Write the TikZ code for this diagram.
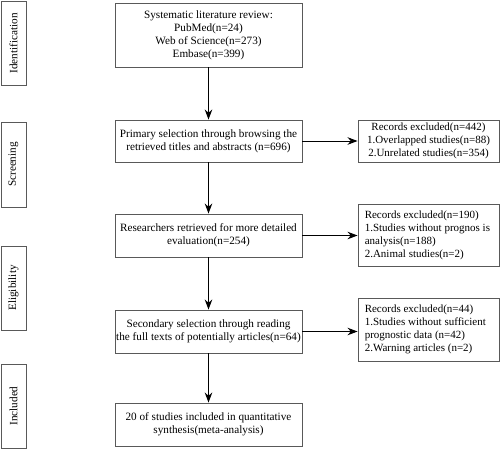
\documentclass[tikz,border=0pt]{standalone}
\usepackage{fontspec}
\setmainfont{Liberation Serif}
\usetikzlibrary{arrows.meta}
\begin{document}
\begin{tikzpicture}[x=1pt,y=-1pt,
  box/.style={draw=black!65,line width=0.9pt,fill=white,inner sep=0pt,font=\fontsize{11.2}{13}\selectfont},
  rtext/.style={inner sep=0pt,anchor=west,align=left,font=\fontsize{11}{13}\selectfont},
  phase/.style={draw=black!65,line width=0.9pt,inner sep=0pt,rotate=90,font=\fontsize{11.2}{13}\selectfont},
  arr/.style={-{Stealth[length=10pt,width=7.5pt]},line width=1pt,black}]
\useasboundingbox (0,0) rectangle (500,450);
% phase labels
\node[phase,minimum width=84pt,minimum height=25pt] (id) at (13.5,43.5) {Identification};
\node[phase,minimum width=85pt,minimum height=25pt] (sc) at (13.5,164.5) {Screening};
\node[phase,minimum width=84pt,minimum height=25pt] (el) at (13.5,288) {Eligibility};
\node[phase,minimum width=84pt,minimum height=25pt] (in) at (13.5,406) {Included};
% main boxes
\node[box,minimum width=187pt,minimum height=64pt,align=center] (b1) at (208.5,35) {Systematic literature review:\\PubMed(n=24)\\Web of Science(n=273)\\Embase(n=399)};
\node[box,minimum width=187pt,minimum height=42pt,align=center] (b2) at (208.5,141) {Primary selection through browsing the\\retrieved titles and abstracts (n=696)};
\node[box,minimum width=187pt,minimum height=43pt,align=center] (b3) at (208.5,235.5) {Researchers retrieved for more detailed\\evaluation(n=254)};
\node[box,minimum width=187pt,minimum height=43pt,align=center] (b4) at (208.5,331.5) {Secondary selection through reading\\the full texts of potentially articles(n=64)};
\node[box,minimum width=187pt,minimum height=43pt,align=center] (b5) at (208.5,424.5) {20 of studies included in quantitative\\synthesis(meta-analysis)};
% right boxes
\node[box,minimum width=141pt,minimum height=42pt,align=center,font=\fontsize{11}{13}\selectfont] (r1) at (428.5,141) {Records excluded(n=442)\\1.Overlapped studies(n=88)\\2.Unrelated studies(n=354)};
\node[box,minimum width=141pt,minimum height=62pt] (r2) at (428.5,235) {};
\node[rtext] (r2t) at ([xshift=7pt]r2.west) {Records excluded(n=190)\\1.Studies without prognos is\\analysis(n=188)\\2.Animal studies(n=2)};
\node[box,minimum width=141pt,minimum height=63pt] (r3) at (428.5,329.5) {};
\node[rtext] (r3t) at ([xshift=7pt]r3.west) {Records excluded(n=44)\\1.Studies without sufficient\\prognostic data (n=42)\\2.Warning articles (n=2)};
% arrows
\draw[arr] (b1) -- (b2);
\draw[arr] (b2) -- (b3);
\draw[arr] (b3) -- (b4);
\draw[arr] (b4) -- (b5);
\draw[arr] (b2.east) -- (r1.west);
\draw[arr] (b3.east) -- (b3.east -| r2.west);
\draw[arr] (b4.east) -- (b4.east -| r3.west);
\end{tikzpicture}
\end{document}
